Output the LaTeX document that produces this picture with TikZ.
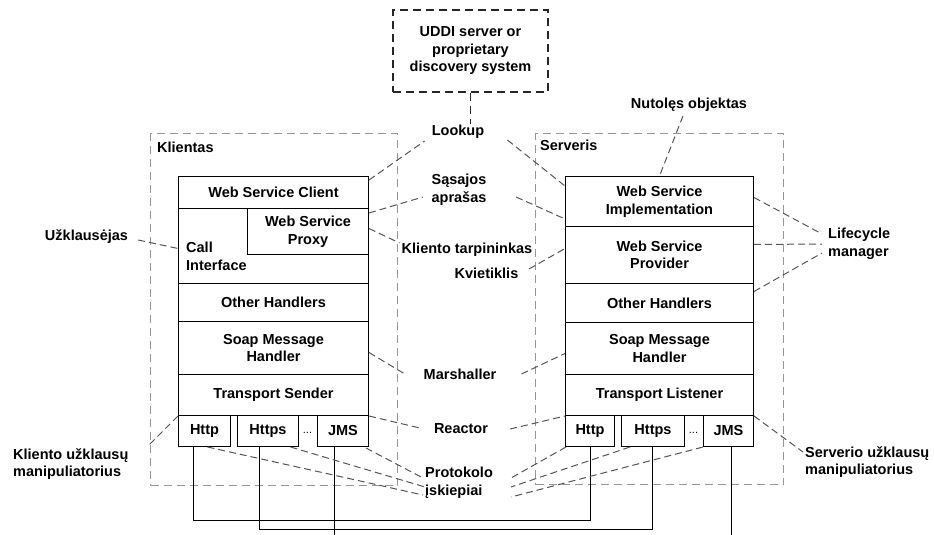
\documentclass[tikz,border=0pt]{standalone}
\usepackage{fontspec}
\setmainfont{Liberation Sans}
\usetikzlibrary{calc}
\definecolor{contgray}{RGB}{150,150,150}
\definecolor{lblgray}{RGB}{85,85,85}
\begin{document}
\begin{tikzpicture}[x=1pt,y=-1pt,
  every node/.style={font=\fontsize{14.5}{17.5}\selectfont\bfseries},
  blk/.style={draw=black, line width=1pt, inner sep=0pt, anchor=north west, align=center},
  cont/.style={draw=contgray, dash pattern=on 8pt off 5pt, line width=1.2pt, inner sep=0pt, anchor=north west},
  lbl/.style={draw=lblgray, dash pattern=on 7pt off 4pt, line width=1pt},
  tag/.style={inner sep=1pt, align=center},
  ltag/.style={inner sep=1pt, align=left, anchor=west},
  wire/.style={draw=black, line width=1pt},
  dotsnode/.style={inner sep=0pt, font=\fontsize{11}{12}\selectfont}
]
\useasboundingbox (0,0) rectangle (934,535);

% discovery server
\node[draw=black!85, dash pattern=on 8pt off 5pt, line width=1.2pt, minimum width=155, minimum height=82, inner sep=0pt, align=center] (uddi) at (470.5,51) {UDDI server or\\proprietary\\discovery system};

% containers
\node[cont, minimum width=247, minimum height=352] (client) at (150,133) {};
\node[cont, minimum width=248, minimum height=351] (server) at (535,133) {};
\node[ltag] (klientas) at (156,147) {Klientas};
\node[ltag] (serveris) at (539,145) {Serveris};

% client stack
\node[blk, minimum width=190, minimum height=32] (wsc) at (178,176) {Web Service Client};
\node[blk, minimum width=190, minimum height=75] (ci) at (178,208) {};
\node[blk, minimum width=121, minimum height=46] (proxy) at (247,208) {Web Service\\Proxy};
\node[ltag] (citext) at (185,256.5) {Call\\Interface};
\node[blk, minimum width=190, minimum height=38] (oh1) at (178,283) {Other Handlers};
\node[blk, minimum width=190, minimum height=53] (smh1) at (178,321) {Soap Message\\Handler};
\node[blk, minimum width=190, minimum height=41] (ts) at (178,374) {Transport Sender};
\node[blk, minimum width=52, minimum height=31] (http1) at (178,415) {Http};
\node[blk, minimum width=61, minimum height=31] (https1) at (237,415) {Https};
\node[blk, minimum width=51, minimum height=31] (jms1) at (317,415) {JMS};
\node[dotsnode] (dots1) at (307.5,433) {...};

% server stack
\node[blk, minimum width=188, minimum height=50] (wsi) at (565,176) {Web Service\\Implementation};
\node[blk, minimum width=188, minimum height=57] (wsp) at (565,226) {Web Service\\Provider};
\node[blk, minimum width=188, minimum height=39] (oh2) at (565,283) {Other Handlers};
\node[blk, minimum width=188, minimum height=52] (smh2) at (565,322) {Soap Message\\Handler};
\node[blk, minimum width=188, minimum height=41] (tl) at (565,374) {Transport Listener};
\node[blk, minimum width=49, minimum height=31] (http2) at (565,415) {Http};
\node[blk, minimum width=63, minimum height=31] (https2) at (621,415) {Https};
\node[blk, minimum width=50, minimum height=31] (jms2) at (703,415) {JMS};
\node[dotsnode] (dots2) at (693.5,433) {...};

% labels
\node[tag] (lookup) at (458,132) {Lookup};
\node[tag] (sasajos) at (459,189.5) {Sąsajos\\aprašas};
\node[tag] (ktarp) at (467,250) {Kliento tarpininkas};
\node[tag] (kviet) at (486.5,273) {Kvietiklis};
\node[tag] (nutoles) at (689,105) {Nutolęs objektas};
\node[ltag] (lifecycle) at (827,244) {Lifecycle\\manager};
\node[tag] (uzk) at (86.5,237) {Užklausėjas};
\node[tag] (marsh) at (460,374) {Marshaller};
\node[tag] (reactor) at (461,429) {Reactor};
\node[ltag, align=left] (proto) at (424,482.5) {Protokolo\\įskiepiai};
\node[ltag] (kum) at (12,464) {Kliento užklausų\\manipuliatorius};
\node[ltag] (sum) at (804,462) {Serverio užklausų\\manipuliatorius};

% free ends of the wires at the bottom edge
\coordinate (jms1end) at (334,535);
\coordinate (jms2end) at (731,535);

% wires between the protocol plug-ins
\draw[wire] ($(http1.south west)+(15,0)$) -- ++(0,73) -| (http2.south);
\draw[wire] ($(https1.south west)+(22,0)$) -- ++(0,82) -| ($(https2.south west)+(31,0)$);
\draw[wire] ($(jms1.south west)+(17,0)$) -- (jms1end);
\draw[wire] ($(jms2.south west)+(28,0)$) -- (jms2end);

% discovery link
\draw[draw=black!85, dash pattern=on 8pt off 5pt, line width=1.2pt] (uddi.south) -- (uddi.south |- lookup.north);

% label connectors
\draw[lbl] ($(wsc.north east)+(0,4)$) -- ($(lookup.west)+(-6,9)$);
\draw[lbl] ($(lookup.east)+(22,8)$) -- ($(wsi.north west)+(0,10)$);
\draw[lbl] ($(proxy.north east)+(0,5)$) -- ($(sasajos.west)+(-7.5,7.5)$);
\draw[lbl] ($(sasajos.east)+(28.5,7.5)$) -- ($(wsi.south west)+(0,-8)$);
\draw[lbl] ($(proxy.east)+(0,-3)$) -- ($(ktarp.west)+(-1,-7)$);
\draw[lbl] ($(kviet.east)+(9.5,-4)$) -- ($(wsp.west)+(0,-6.5)$);
\draw[lbl] ($(nutoles.south)+(-6,3)$) -- (wsi.north);
\draw[lbl] ($(wsi.east)+(0,-4)$) -- ($(lifecycle.west)+(-5,-10)$);
\draw[lbl] ($(wsp.east)+(0,-10.5)$) -- ($(lifecycle.west)+(-5,0)$);
\draw[lbl] ($(oh2.east)+(0,-11.5)$) -- ($(lifecycle.west)+(-5,9)$);
\draw[lbl] ($(uzk.east)+(9,3)$) -- ($(ci.west)+(0,2.5)$);
\draw[lbl] ($(smh1.east)+(0,4.5)$) -- ($(marsh.west)+(-16,1)$);
\draw[lbl] ($(marsh.east)+(24,0)$) -- ($(smh2.west)+(0,5)$);
\draw[lbl] (ts.south east) -- ($(reactor.west)+(-13,-1)$);
\draw[lbl] ($(reactor.east)+(21,0)$) -- (tl.south west);
\draw[lbl] ($(jms1.south east)+(-3,1)$) -- ($(proto.west)+(-1,-4.5)$);
\draw[lbl] ($(https1.south)+(22.5,0)$) -- ($(proto.west)+(1,4.5)$);
\draw[lbl] ($(http1.south)+(3,0)$) -- ($(proto.west)+(-1,12.5)$);
\draw[lbl] ($(http2.south west)+(1,0)$) -- ($(proto.west)+(87,-4.5)$);
\draw[lbl] ($(https2.south west)+(9,0)$) -- ($(proto.west)+(87,4.5)$);
\draw[lbl] (jms2.south west) -- ($(proto.west)+(87,14.5)$);
\draw[lbl] (ts.south west) -- ($(kum.west)+(135,-17)$);
\draw[lbl] (tl.south east) -- ($(sum.west)+(-1,-10)$);
\end{tikzpicture}
\end{document}
